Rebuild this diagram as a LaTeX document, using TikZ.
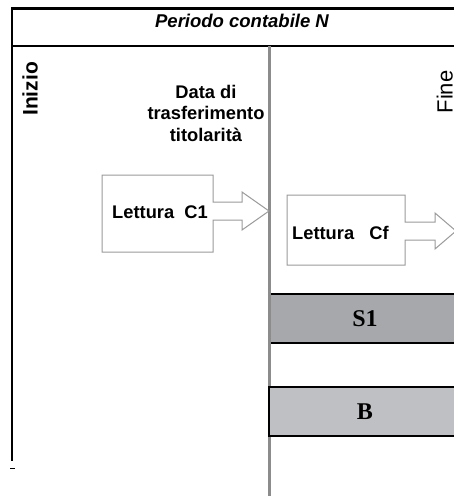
\documentclass[tikz,border=0pt]{standalone}
\usepackage{fontspec}
\setmainfont{Liberation Sans}
\newfontfamily\serifbar{Liberation Serif}
\definecolor{outl}{HTML}{9A9A9A}
\definecolor{vline}{HTML}{8C8C8C}
\definecolor{sfill}{HTML}{A7A8AB}
\definecolor{bfill}{HTML}{BFC0C3}
\begin{document}
\begin{tikzpicture}[x=1pt,y=-1pt,
  lbl/.style={inner sep=0pt,font=\fontsize{18.3}{21.5}\selectfont\bfseries,align=center},
  rot/.style={inner sep=0pt,rotate=90},
  arrowbox/.style={draw=outl,line width=1pt,fill=white},
  bartext/.style={inner sep=0pt,font=\fontsize{24}{26}\selectfont\serifbar\bfseries}]
\useasboundingbox (0,0) rectangle (454,496);
% frame
\draw[line width=3pt] (11,8) -- (454,8);
\draw[line width=1.5pt] (12,8) -- (12,461);
\draw[line width=1pt] (10,468) -- (15,468);
\draw[line width=1.5pt] (12,46) -- (454,46);
\draw[vline,line width=3pt] (269,46) -- (269,496);
\node[inner sep=0pt,font=\fontsize{18.5}{20}\selectfont\bfseries\itshape] (title) at (242,21) {Periodo contabile N};
\node[rot,font=\fontsize{21}{22}\selectfont\bfseries] (inizio) at (30,89) {Inizio};
\node[rot,font=\fontsize{22}{24}\selectfont,anchor=south] (fine) at (453,92) {Fine};
\node[lbl] (data) at (206,113) {Data di\\trasferimento\\titolarità};
% arrow C1
\draw[arrowbox] (102,175) -- (213,175) -- (213,202) -- (242,202) -- (242,192) -- (269,211)
  -- (242,230) -- (242,220) -- (213,220) -- (213,252) -- (102,252) -- cycle;
\node[lbl] (c1) at (160,212) {Lettura\ \ C1};
% arrow Cf
\draw[arrowbox] (287,195) -- (405,195) -- (405,222) -- (435,222) -- (435,213) -- (456,231)
  -- (435,249) -- (435,240) -- (405,240) -- (405,265) -- (287,265) -- cycle;
\node[lbl,anchor=west] (cf) at (292,233) {Lettura\ \ \ Cf};
% bars
\fill[sfill] (271,294) rectangle (455,343);
\draw[line width=1.5pt] (271,294) -- (455,294);
\draw[line width=1.5pt] (271,343) -- (455,343);
\node[bartext] (s1) at (365,319) {S1};
\draw[fill=bfill,line width=1.5pt] (269,387) rectangle (456,436);
\node[bartext] (b) at (365,412) {B};
\end{tikzpicture}
\end{document}
